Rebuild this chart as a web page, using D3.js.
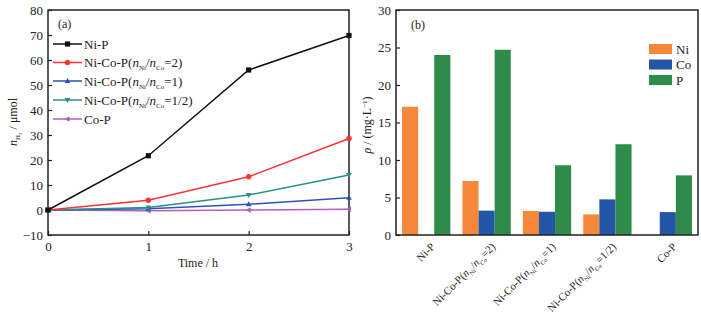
<!DOCTYPE html>
<html>
<head>
<meta charset="utf-8">
<script src="https://cdn.jsdelivr.net/npm/d3@7"></script>
<style>
  body { margin: 0; background: #fff; }
  svg, svg text { font-family: "Liberation Serif", "Times New Roman", Times, serif !important; }
</style>
</head>
<body>
<div id="chart"></div>
<script>
// panel (a) data
var hours = [0, 1, 2, 3];
var seriesNames = ["Ni-P", "r2", "r1", "r12", "Co-P"];
var niP = [0, 21.7, 56.0, 69.8];
var niCoP2 = [0, 3.9, 13.3, 28.6];
var niCoP1 = [0, 0.5, 2.3, 4.9];
var niCoPHalf = [0, 1.0, 6.0, 14.0];
var coP = [0, -0.3, 0, 0.3];
var lineColors = ["#111111", "#ff3333", "#2a55b8", "#2b8f8a", "#b060b8"];
var lineMarkers = ["square", "circle", "up", "down", "left"];
var ratioLabels = [null, "2", "1", "1/2", null];

// panel (b) data
var samples = ["Ni-P", "2", "1", "1/2", "Co-P"];
var elements = ["Ni", "Co", "P"];
var niConc = [17.1, 7.2, 3.2, 2.75, 0];
var coConc = [0, 3.25, 3.1, 4.75, 3.05];
var pConc = [24.0, 24.7, 9.3, 12.1, 7.95];
var barColors = ["#f5883a", "#2456a8", "#2e8b4a"];

var yTicksA = [-10, 0, 10, 20, 30, 40, 50, 60, 70, 80];
var xTicksA = [0, 1, 2, 3];
var yTicksB = [0, 5, 10, 15, 20, 25, 30];

var svg = d3.select("#chart").append("svg")
    .attr("width", 701)
    .attr("height", 317);

/* ---------- panel (a) ---------- */
var a = {left: 48, right: 349, top: 10, bottom: 235};
var xA = d3.scaleLinear().domain([0, 3]).range([a.left, a.right]);
var yA = d3.scaleLinear().domain([-10, 80]).range([a.bottom, a.top]);

var gA = svg.append("g");

var yAxisA = gA.append("g")
    .attr("transform", "translate(" + a.left + ",0)")
    .call(d3.axisLeft(yA).tickValues(yTicksA).tickSizeInner(-4).tickSizeOuter(0)
        .tickFormat(function(d) { return d < 0 ? "\u2212" + Math.abs(d) : d; }));
var xAxisA = gA.append("g")
    .attr("transform", "translate(0," + a.bottom + ")")
    .call(d3.axisBottom(xA).tickValues(xTicksA).tickSizeInner(-4).tickSizeOuter(0)
        .tickFormat(d3.format("d")));
[yAxisA, xAxisA].forEach(function(ax) {
    ax.attr("font-family", null);
    ax.select(".domain").remove();
    ax.selectAll("line").attr("stroke", "#222").attr("stroke-width", 1.2);
    ax.selectAll("text").attr("font-size", 13).attr("fill", "#222");
});
yAxisA.selectAll("text").attr("x", -5);
xAxisA.selectAll("text").attr("y", 7);

gA.append("rect")
    .attr("x", a.left).attr("y", a.top)
    .attr("width", a.right - a.left).attr("height", a.bottom - a.top)
    .attr("fill", "none").attr("stroke", "#222").attr("stroke-width", 1.5);

var allSeries = [niP, niCoP2, niCoP1, niCoPHalf, coP];

var line = d3.line()
    .x(function(d, i) { return xA(hours[i]); })
    .y(function(d) { return yA(d); });

function markerPath(kind, s) {
    if (kind === "square") return "M" + (-s) + "," + (-s) + "h" + (2 * s) + "v" + (2 * s) + "h" + (-2 * s) + "Z";
    if (kind === "circle") return d3.symbol(d3.symbolCircle, Math.PI * s * s * 1.1)();
    if (kind === "up") return "M0," + (-s * 1.2) + "L" + (s * 1.1) + "," + (s * 0.8) + "L" + (-s * 1.1) + "," + (s * 0.8) + "Z";
    if (kind === "down") return "M0," + (s * 1.2) + "L" + (s * 1.1) + "," + (-s * 0.8) + "L" + (-s * 1.1) + "," + (-s * 0.8) + "Z";
    if (kind === "left") return "M" + (-s * 1.2) + ",0L" + (s * 0.8) + "," + (-s * 1.1) + "L" + (s * 0.8) + "," + (s * 1.1) + "Z";
}

// draw from back to front so Ni-P ends up on top
var order = [4, 2, 3, 1, 0];
order.forEach(function(k) {
    var data = allSeries[k];
    gA.append("path")
        .datum(data)
        .attr("d", line)
        .attr("fill", "none")
        .attr("stroke", lineColors[k])
        .attr("stroke-width", 1.5);
    gA.selectAll(".m" + k)
        .data(data)
        .enter().append("path")
        .attr("class", "m" + k)
        .attr("transform", function(d, i) { return "translate(" + xA(hours[i]) + "," + yA(d) + ")"; })
        .attr("d", markerPath(lineMarkers[k], 2.6))
        .attr("fill", lineColors[k]);
});

gA.append("text")
    .attr("x", 58).attr("y", 28)
    .attr("font-size", 12).attr("fill", "#222")
    .text("(a)");

function ratioText(t, r, sub) {
    t.append("tspan").text("Ni-Co-P(");
    t.append("tspan").attr("font-style", "italic").text("n");
    t.append("tspan").attr("font-size", sub).attr("dy", 3).text("Ni");
    t.append("tspan").attr("dy", -3).text("/");
    t.append("tspan").attr("font-style", "italic").text("n");
    t.append("tspan").attr("font-size", sub).attr("dy", 3).text("Co");
    t.append("tspan").attr("dy", -3).text("=" + r + ")");
}

// legend (a)
var legA = gA.append("g");
var legRowsY = [44, 62.5, 81, 100, 119];
seriesNames.forEach(function(name, k) {
    var y = legRowsY[k];
    legA.append("line")
        .attr("x1", 53).attr("x2", 82).attr("y1", y).attr("y2", y)
        .attr("stroke", lineColors[k]).attr("stroke-width", 1.5);
    legA.append("path")
        .attr("transform", "translate(67.5," + y + ")")
        .attr("d", markerPath(lineMarkers[k], 2.6))
        .attr("fill", lineColors[k]);
    var t = legA.append("text")
        .attr("x", 84).attr("y", y + 4.5)
        .attr("font-size", 13).attr("fill", "#222");
    if (ratioLabels[k] === null) t.text(name);
    else ratioText(t, ratioLabels[k], 7);
});

// axis titles (a)
gA.append("text")
    .attr("x", 198).attr("y", 267)
    .attr("text-anchor", "middle")
    .attr("font-size", 12).attr("fill", "#222")
    .text("Time / h");

var yLabA = gA.append("text")
    .attr("transform", "translate(17,122) rotate(-90)")
    .attr("text-anchor", "middle")
    .attr("font-size", 12).attr("fill", "#222");
yLabA.append("tspan").attr("font-style", "italic").text("n");
yLabA.append("tspan").attr("font-size", 7).attr("dy", 3).text("H");
yLabA.append("tspan").attr("font-size", 5).attr("dy", 1.5).text("2");
yLabA.append("tspan").attr("dy", -4.5).text(" / \u03bcmol");

/* ---------- panel (b) ---------- */
var b = {left: 396, right: 698, top: 10, bottom: 235};
var x0 = d3.scaleBand().domain(samples).range([b.left, b.right])
    .paddingInner(0.2).paddingOuter(0.1);
var x1 = d3.scaleBand().domain(elements).range([0, x0.bandwidth()]);
var yB = d3.scaleLinear().domain([0, 30]).range([b.bottom, b.top]);

var gB = svg.append("g");

var conc = [niConc, coConc, pConc];
var barData = [];
samples.forEach(function(s, i) {
    elements.forEach(function(e, j) {
        barData.push({sample: s, element: e, j: j, value: conc[j][i]});
    });
});

gB.selectAll("rect.bar")
    .data(barData.filter(function(d) { return d.value > 0; }))
    .enter().append("rect")
    .attr("class", "bar")
    .attr("x", function(d) { return x0(d.sample) + x1(d.element); })
    .attr("width", x1.bandwidth())
    .attr("y", function(d) { return yB(d.value); })
    .attr("height", function(d) { return yB(0) - yB(d.value); })
    .attr("fill", function(d) { return barColors[d.j]; });

var yAxisB = gB.append("g")
    .attr("transform", "translate(" + b.left + ",0)")
    .call(d3.axisLeft(yB).tickValues(yTicksB).tickSizeInner(-4).tickSizeOuter(0));
yAxisB.attr("font-family", null);
yAxisB.select(".domain").remove();
yAxisB.selectAll("line").attr("stroke", "#222").attr("stroke-width", 1.2);
yAxisB.selectAll("text").attr("font-size", 13).attr("fill", "#222").attr("x", -5);

gB.append("rect")
    .attr("x", b.left).attr("y", b.top)
    .attr("width", b.right - b.left).attr("height", b.bottom - b.top)
    .attr("fill", "none").attr("stroke", "#222").attr("stroke-width", 1.5);

// rotated category labels
samples.forEach(function(s, i) {
    var cx = x0(s) + x0.bandwidth() / 2 + 4;
    var t = gB.append("text")
        .attr("transform", "translate(" + cx + "," + (b.bottom + 7) + ") rotate(-45)")
        .attr("text-anchor", "end")
        .attr("dy", "0.7em")
        .attr("font-size", 11).attr("fill", "#222");
    if (s === "Ni-P" || s === "Co-P") t.text(s);
    else ratioText(t, s, 6);
});

gB.append("text")
    .attr("x", 411).attr("y", 29)
    .attr("font-size", 12).attr("fill", "#222")
    .text("(b)");

// legend (b)
var legRowsB = [49, 64.5, 80];
elements.forEach(function(e, j) {
    gB.append("rect")
        .attr("x", 649).attr("y", legRowsB[j] - 5)
        .attr("width", 23).attr("height", 10)
        .attr("fill", barColors[j]);
    gB.append("text")
        .attr("x", 676).attr("y", legRowsB[j] + 4.5)
        .attr("font-size", 13).attr("fill", "#222")
        .text(e);
});

var yLabB = gB.append("text")
    .attr("transform", "translate(371,125) rotate(-90)")
    .attr("text-anchor", "middle")
    .attr("font-size", 12).attr("fill", "#222");
yLabB.append("tspan").attr("font-style", "italic").text("\u03c1");
yLabB.append("tspan").text(" / (mg\u00b7L");
yLabB.append("tspan").attr("font-size", 7).attr("dy", -4).text("\u22121");
yLabB.append("tspan").attr("dy", 4).text(")");
</script>
</body>
</html>
